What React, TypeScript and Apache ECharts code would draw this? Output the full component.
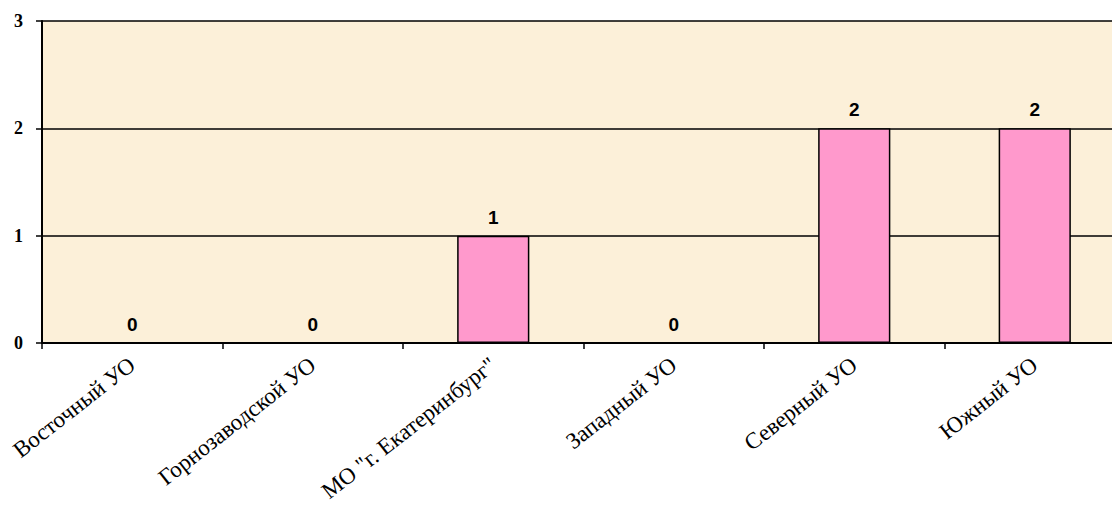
import React, { useEffect, useRef } from "react";
import * as echarts from "echarts";

const categories = [
  "Восточный УО",
  "Горнозаводской УО",
  "МО \"г. Екатеринбург\"",
  "Западный УО",
  "Северный УО",
  "Южный УО",
];
const values = [0, 0, 1, 0, 2, 2];
const yTicks = [0, 1, 2, 3];

export default function App() {
  const ref = useRef<HTMLDivElement>(null);
  useEffect(() => {
    if (!ref.current) return;
    const chart = echarts.init(ref.current, null, { renderer: "svg" });
    chart.setOption({
      animation: false,
      backgroundColor: "#ffffff",
      grid: {
        left: 42,
        top: 21,
        bottom: 162,
        right: 0,
        containLabel: false,
        outerBoundsMode: "none",
        show: true,
        backgroundColor: "#FCF0D9",
        borderWidth: 0,
      },
      xAxis: {
        type: "category",
        data: categories,
        axisLine: { show: true, lineStyle: { color: "#000", width: 2 } },
        axisTick: { show: true, length: 6, lineStyle: { color: "#000", width: 1.5 } },
        axisLabel: {
          rotate: 38,
          margin: 19,
          fontFamily: "'Liberation Serif', 'Times New Roman', serif",
          fontSize: 23,
          color: "#000",
          interval: 0,
        },
        splitLine: { show: false },
      },
      yAxis: {
        type: "value",
        min: yTicks[0],
        max: yTicks[yTicks.length - 1],
        interval: 1,
        axisLine: { show: true, lineStyle: { color: "#000", width: 2 } },
        axisTick: { show: true, length: 6, lineStyle: { color: "#000", width: 1.5 } },
        axisLabel: {
          margin: 19,
          fontFamily: "'Liberation Serif', 'Times New Roman', serif",
          fontWeight: "bold",
          fontSize: 18,
          color: "#000",
        },
        splitLine: { show: true, lineStyle: { color: "#000", width: 1.5 } },
      },
      series: [
        {
          type: "bar",
          data: values.map((v) => ({
            value: v,
            itemStyle: v === 0 ? { borderWidth: 0, color: "transparent" } : undefined,
          })),
          barWidth: "40%",
          z: 1,
          itemStyle: { color: "#FF99CC", borderColor: "#000", borderWidth: 1.5 },
          label: {
            show: true,
            position: "top",
            distance: 9,
            fontFamily: "'Liberation Sans', Arial, sans-serif",
            fontWeight: "bold",
            fontSize: 19,
            color: "#000",
          },
        },
      ],
    });
    return () => chart.dispose();
  }, []);
  return (
    <div
      style={{
        position: "fixed",
        left: 0,
        top: 0,
        width: 1112,
        height: 505,
        overflow: "hidden",
      }}
    >
      <div ref={ref} style={{ width: 1125, height: 505 }} />
    </div>
  );
}
